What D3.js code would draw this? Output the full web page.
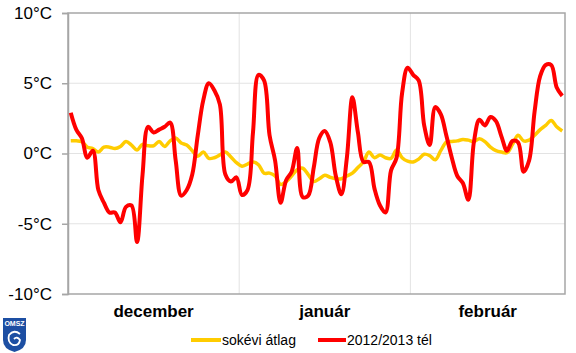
<!DOCTYPE html>
<html>
  <head>
    <script src="https://cdn.jsdelivr.net/npm/d3@7"></script>
    <style>
      body { margin: 0; background: #fff; }
    </style>
  </head>
  <body>
    <svg id="chart" width="576" height="353"></svg>
    <script>
      // month names and lengths (Dec 2012 - Feb 2013)
      var months = ["december", "január", "február"];
      var monthDays = [31, 31, 28];
      var yTicks = [-10, -5, 0, 5, 10];
      var seriesNames = ["sokévi átlag", "2012/2013 tél"];

      // daily mean temperature, long-term average
      var avgTemp = [
        0.9, 0.9, 0.85, 0.45, 0.35, 0.1, 0.45, 0.45, 0.35, 0.5,
        0.85, 0.6, 0.25, 0.65, 0.55, 0.55, 0.85, 0.5, 0.9, 1.1,
        0.75, 0.6, 0.2, -0.2, 0.1, -0.35, -0.3, -0.1, 0.1, -0.25,
        -0.65, -0.9, -0.75, -0.6, -0.8, -1.4, -1.4, -1.6, -2.2, -2.0,
        -1.6, -1.15, -1.05, -1.5, -2.0, -1.8, -1.55, -1.7, -1.8, -1.8,
        -1.6, -1.4, -1.0, -0.6, 0.1, -0.3, -0.1, -0.3, -0.35, 0.25,
        -0.3, -0.55, -0.6, -0.4, -0.05, -0.15, -0.45, 0.2, 0.8, 0.85,
        0.9, 1.0, 0.95, 0.85, 1.05, 0.85, 0.45, 0.2, 0.1, 0.06,
        0.65, 1.3, 0.9, 0.95, 1.3, 1.7, 2.0, 2.35, 1.9, 1.6
      ];

      // daily mean temperature, winter 2012/2013
      var winterTemp = [
        2.9, 1.7, 1.1, -0.3, 0.2, -2.6, -3.5, -4.2, -4.2, -4.9,
        -3.8, -3.7, -6.3, -1.5, 1.9, 1.5, 1.7, 1.9, 2.2, -0.5,
        -3.0, -2.6, -1.5, 1.3, 3.8, 5.0, 4.5, 3.5, -1.5, -2.0,
        -1.7, -2.95, -2.6, 1.5, 5.6, 5.2, 1.3, -0.5, -3.5, -1.9,
        -1.3, 0.4, -3.1, -3.0, -1.0, 1.1, 1.6, 0.8, -1.6, -2.9,
        -0.3, 4.0, 1.5, -0.6, -0.6, -2.5, -3.7, -4.2, -1.2, -0.3,
        4.3, 6.1, 5.6, 5.2, 2.0, 0.6, 3.3, 2.8, 1.3, -0.3,
        -1.6, -2.1, -3.3, 0.8, 2.4, 2.0, 2.6, 2.3, 1.2, 0.2,
        0.9, 0.8, -1.3, -0.5, 3.0, 5.5, 6.3, 6.3, 4.7, 4.1
      ];

      var mLeft = 68, mRight = 565, mTop = 13, mBottom = 294;
      var totalDays = d3.sum(monthDays);

      var svg = d3.select("#chart");
      var x = d3.scaleLinear().domain([0, totalDays]).range([mLeft, mRight]);
      var y = d3.scaleLinear().domain([-10, 10]).range([mBottom, mTop]);

      // horizontal grid
      svg.append("g").selectAll("line").data(yTicks.filter(d => d > -10 && d < 10)).enter().append("line")
        .attr("x1", mLeft).attr("x2", mRight)
        .attr("y1", d => y(d)).attr("y2", d => y(d))
        .attr("stroke", "#e3e3e3").attr("stroke-width", 1);

      // month separators
      var bounds = Array.from(d3.cumsum(monthDays)).slice(0, -1);
      svg.append("g").selectAll("line").data(bounds).enter().append("line")
        .attr("x1", d => x(d)).attr("x2", d => x(d))
        .attr("y1", mTop).attr("y2", mBottom)
        .attr("stroke", "#e3e3e3").attr("stroke-width", 1);

      // frame
      svg.append("rect")
        .attr("x", mLeft).attr("y", mTop)
        .attr("width", mRight - mLeft).attr("height", mBottom - mTop)
        .attr("fill", "none").attr("stroke", "#a6a6a6").attr("stroke-width", 1.5);

      // y axis
      var yAxis = svg.append("g").attr("transform", `translate(${mLeft},0)`)
        .call(d3.axisLeft(y).tickValues(yTicks).tickFormat(d => d + "°C").tickSize(6).tickPadding(10));
      yAxis.select(".domain").attr("stroke", "#a6a6a6").attr("stroke-width", 1.5);
      yAxis.selectAll(".tick line").attr("stroke", "#a6a6a6").attr("stroke-width", 1.5);
      yAxis.selectAll(".tick text")
        .attr("font-family", "Liberation Sans, Arial, sans-serif")
        .attr("font-size", 17).attr("fill", "#000");

      // month labels
      var starts = [0].concat(bounds);
      svg.append("g").selectAll("text").data(months).enter().append("text")
        .text(d => d)
        .attr("x", (d, i) => x(starts[i] + monthDays[i] / 2))
        .attr("y", 317)
        .attr("text-anchor", "middle")
        .attr("font-family", "Liberation Sans, Arial, sans-serif")
        .attr("font-weight", "bold")
        .attr("font-size", 17);

      var line = d3.line()
        .x((d, i) => x(i + 0.5))
        .y(d => y(d))
        .curve(d3.curveCatmullRom);

      svg.append("path").datum(avgTemp)
        .attr("d", line).attr("fill", "none")
        .attr("stroke", "#ffcc00").attr("stroke-width", 3.5)
        .attr("stroke-linejoin", "round");

      svg.append("path").datum(winterTemp)
        .attr("d", line).attr("fill", "none")
        .attr("stroke", "#ff0000").attr("stroke-width", 4)
        .attr("stroke-linejoin", "round");

      // legend
      var legend = [
        {name: seriesNames[0], color: "#ffcc00", x0: 191, x1: 221},
        {name: seriesNames[1], color: "#ff0000", x0: 318, x1: 346}
      ];
      var lg = svg.append("g");
      lg.selectAll("line").data(legend).enter().append("line")
        .attr("x1", d => d.x0).attr("x2", d => d.x1)
        .attr("y1", 340).attr("y2", 340)
        .attr("stroke", d => d.color).attr("stroke-width", 4);
      lg.selectAll("text").data(legend).enter().append("text")
        .text(d => d.name)
        .attr("x", d => d.x1 + 1).attr("y", 345)
        .attr("font-family", "Liberation Sans, Arial, sans-serif")
        .attr("font-size", 14);

      // OMSZ logo
      var logo = svg.append("g");
      logo.append("path")
        .attr("d", "M3,318 L26,318 L26,340 Q26,349 14.5,352 Q3,349 3,340 Z")
        .attr("fill", "#1d4fa3");
      logo.append("text").text("OMSZ")
        .attr("x", 14.5).attr("y", 326)
        .attr("text-anchor", "middle")
        .attr("font-family", "Liberation Sans, Arial, sans-serif")
        .attr("font-weight", "bold").attr("font-size", 7)
        .attr("fill", "#fff");
      logo.append("path")
        .attr("d", "M20,334 Q14,329 9,335 Q7,342 13,345 Q19,346 20,340 Q17,336 14,339")
        .attr("fill", "none").attr("stroke", "#fff").attr("stroke-width", 1.8);
    </script>
  </body>
</html>
